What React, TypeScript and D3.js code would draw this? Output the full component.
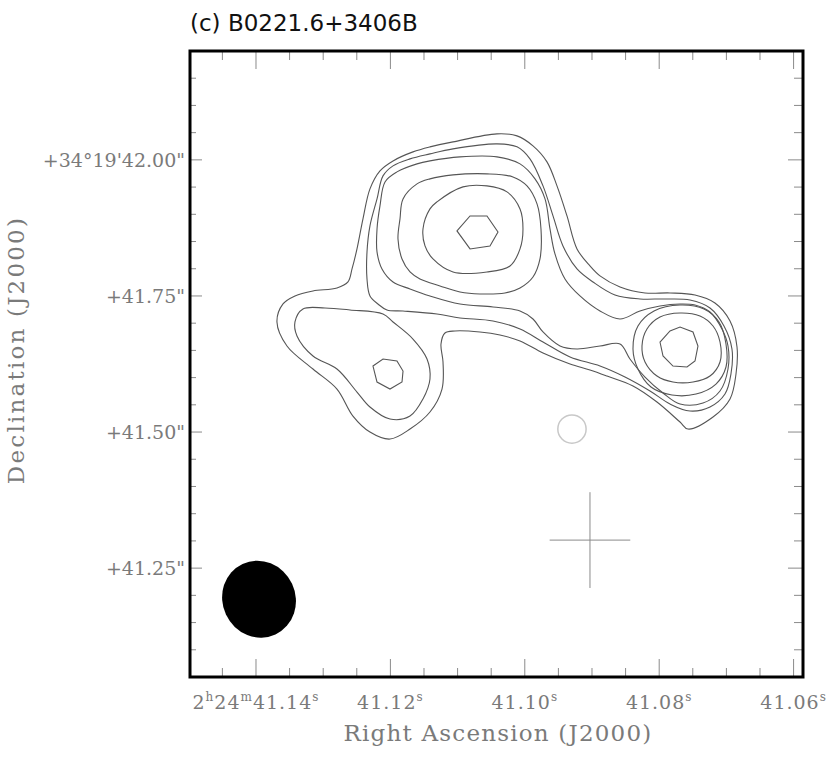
import React from 'react';
import * as d3 from 'd3';

// axis extents (RA in seconds of time, Dec in arcsec past 34°19')
const raDomain = [41.14982, 41.0586];
const decDomain = [41.05, 42.2];

const raMajor = [41.14, 41.12, 41.10, 41.08, 41.06];
const raLabels = ['41.14', '41.12', '41.10', '41.08', '41.06'];
const decMajor = [42.0, 41.75, 41.5, 41.25];
const decLabels = ['+34°19\'42.00"', '+41.75"', '+41.50"', '+41.25"'];

// contours, [ra, dec], outermost level first
const levelA_all = [
  [41.08881, 41.7868], [41.08583, 41.7665], [41.08211, 41.7555], [41.07839, 41.7555],
  [41.07467, 41.7518], [41.07170, 41.7371], [41.06946, 41.7040], [41.06842, 41.6562],
  [41.06857, 41.6066], [41.06946, 41.5607], [41.07199, 41.5276], [41.07571, 41.5055],
  [41.07690, 41.5184], [41.08033, 41.5551], [41.08390, 41.5846], [41.08777, 41.6029],
  [41.09030, 41.6140], [41.09327, 41.6250], [41.09729, 41.6452], [41.10071, 41.6673],
  [41.10369, 41.6783], [41.10667, 41.6838], [41.11039, 41.6857], [41.11188, 41.6820],
  [41.11247, 41.6618], [41.11217, 41.6287], [41.11232, 41.5790], [41.11411, 41.5368],
  [41.11708, 41.5055], [41.12006, 41.4871], [41.12304, 41.5000], [41.12557, 41.5294],
  [41.12795, 41.5790], [41.13152, 41.6158], [41.13539, 41.6581], [41.13688, 41.7022],
  [41.13598, 41.7353], [41.13420, 41.7500], [41.13152, 41.7592], [41.12795, 41.7647],
  [41.12631, 41.7757], [41.12571, 41.7996], [41.12497, 41.8364], [41.12408, 41.8915],
  [41.12304, 41.9467], [41.12155, 41.9798], [41.11961, 41.9981], [41.11664, 42.0147],
  [41.11411, 42.0239], [41.11068, 42.0331], [41.10414, 42.0478], [41.10116, 42.0441],
  [41.09878, 42.0257], [41.09670, 41.9963], [41.09521, 41.9522], [41.09372, 41.8970],
  [41.09223, 41.8364], [41.09030, 41.8051],
];

const levelB_main = [
  [41.12304, 41.7500], [41.12348, 41.7812], [41.12348, 41.8309], [41.12304, 41.8787],
  [41.12199, 41.9283], [41.12110, 41.9706], [41.11961, 41.9890], [41.11708, 42.0018],
  [41.11411, 42.0110], [41.11068, 42.0202], [41.10414, 42.0294], [41.10116, 42.0239],
  [41.09923, 42.0018], [41.09729, 41.9522], [41.09580, 41.8970], [41.09432, 41.8419],
  [41.09223, 41.7996], [41.08985, 41.7757], [41.08658, 41.7518], [41.08286, 41.7445],
  [41.07914, 41.7445], [41.07542, 41.7426], [41.07244, 41.7279], [41.07036, 41.6948],
  [41.06917, 41.6526], [41.06932, 41.6066], [41.07021, 41.5698], [41.07244, 41.5460],
  [41.07542, 41.5386], [41.07839, 41.5515], [41.08137, 41.5754], [41.08509, 41.6011],
  [41.08881, 41.6213], [41.09327, 41.6379], [41.09729, 41.6654], [41.10071, 41.6893],
  [41.10473, 41.7040], [41.10964, 41.7096], [41.11307, 41.7169], [41.11812, 41.7224],
  [41.12051, 41.7243], [41.12185, 41.7353],
];

const levelB_west = [
  [41.13301, 41.7261], [41.13420, 41.7022], [41.13390, 41.6765], [41.13152, 41.6397],
  [41.12795, 41.6158], [41.12497, 41.5735], [41.12304, 41.5460], [41.12006, 41.5239],
  [41.11708, 41.5294], [41.11515, 41.5607], [41.11411, 41.5974], [41.11455, 41.6342],
  [41.11664, 41.6709], [41.11961, 41.7022], [41.12110, 41.7169], [41.12601, 41.7243],
  [41.12973, 41.7279],
];

const levelC_main = [
  [41.12155, 41.9154], [41.12199, 41.8731], [41.12199, 41.8309], [41.12125, 41.7996],
  [41.11961, 41.7757], [41.11708, 41.7629], [41.11411, 41.7500], [41.10964, 41.7353],
  [41.10473, 41.7298], [41.10071, 41.7224], [41.09878, 41.7077], [41.09729, 41.6838],
  [41.09476, 41.6581], [41.09223, 41.6526], [41.08881, 41.6581], [41.08583, 41.6618],
  [41.08435, 41.6342], [41.08211, 41.6011], [41.07943, 41.5717], [41.07690, 41.5515],
  [41.07348, 41.5533], [41.07095, 41.5754], [41.06976, 41.6158], [41.06976, 41.6581],
  [41.07066, 41.6893], [41.07244, 41.7206], [41.07467, 41.7334], [41.07690, 41.7353],
  [41.07988, 41.7316], [41.08286, 41.7224], [41.08583, 41.7077], [41.08881, 41.7224],
  [41.09179, 41.7500], [41.09402, 41.7812], [41.09551, 41.8272], [41.09625, 41.8731],
  [41.09699, 41.9283], [41.09848, 41.9651], [41.10071, 41.9926], [41.10414, 42.0055],
  [41.10964, 42.0055], [41.11411, 41.9981], [41.11604, 41.9926], [41.11902, 41.9779],
  [41.12080, 41.9595],
];

const levelC_west = [
  [41.12259, 41.6213], [41.12110, 41.6342], [41.11902, 41.6305], [41.11812, 41.6121],
  [41.11827, 41.5919], [41.12006, 41.5790], [41.12199, 41.5919],
];

const levelD_centre = [
  [41.11857, 41.8915], [41.11812, 41.9283], [41.11604, 41.9559], [41.11411, 41.9651],
  [41.11068, 41.9724], [41.10563, 41.9743], [41.10176, 41.9687], [41.09967, 41.9522],
  [41.09818, 41.9191], [41.09759, 41.8731], [41.09774, 41.8180], [41.09878, 41.7849],
  [41.10071, 41.7647], [41.10295, 41.7555], [41.10667, 41.7537], [41.10964, 41.7573],
  [41.11262, 41.7684], [41.11560, 41.7812], [41.11708, 41.7941], [41.11827, 41.8180],
  [41.11887, 41.8548],
];

const levelD_east = [
  [41.08390, 41.6526], [41.08316, 41.6948], [41.08077, 41.7224], [41.07690, 41.7334],
  [41.07333, 41.7261], [41.07110, 41.7022], [41.07006, 41.6618], [41.07006, 41.6195],
  [41.07155, 41.5882], [41.07452, 41.5698], [41.07810, 41.5680], [41.08122, 41.5827],
  [41.08316, 41.6158],
];

const levelE_centre = [
  [41.11515, 41.8731], [41.11411, 41.9099], [41.11307, 41.9228], [41.10920, 41.9504],
  [41.10563, 41.9522], [41.10265, 41.9412], [41.10071, 41.9099], [41.10027, 41.8731],
  [41.10071, 41.8364], [41.10220, 41.8051], [41.10563, 41.7941], [41.11068, 41.7941],
  [41.11366, 41.8180], [41.11485, 41.8419],
];

const levelE_east = [
  [41.08256, 41.6581], [41.08182, 41.6893], [41.07988, 41.7114], [41.07690, 41.7187],
  [41.07393, 41.7132], [41.07199, 41.6948], [41.07095, 41.6654], [41.07095, 41.6287],
  [41.07244, 41.6029], [41.07497, 41.5919], [41.07795, 41.5919], [41.08033, 41.6029],
  [41.08211, 41.6287],
];

const levelF_centre = [
  [41.11009, 41.8695], [41.10815, 41.8970], [41.10563, 41.8970], [41.10399, 41.8676],
  [41.10518, 41.8419], [41.10815, 41.8364],
];

const levelF_east = [
  [41.07988, 41.6654], [41.07839, 41.6857], [41.07690, 41.6930], [41.07497, 41.6838],
  [41.07423, 41.6581], [41.07467, 41.6305], [41.07586, 41.6195], [41.07795, 41.6213],
  [41.07943, 41.6397],
];

const smoothRings = [levelA_all, levelB_main, levelB_west, levelC_main, levelD_centre, levelD_east, levelE_centre, levelE_east];
const peakRings = [levelC_west, levelF_centre, levelF_east];

// restoring beam: centre, FWHM major/minor (arcsec), position angle (deg)
const beam = { ra: 41.13955, dec: 41.193, major: 0.143, minor: 0.134, pa: -25 };
// marked position (cross) and faint circle
const cross = { ra: 41.0903, dec: 41.3015, halfRa: 0.006, halfDec: 0.088 };
const ghost = { ra: 41.09298, dec: 41.5055, r: 0.026 };

const serif = '"DejaVu Serif", "Liberation Serif", serif';
const sans = '"DejaVu Sans", "Liberation Sans", sans-serif';

export default function App() {
  const W = 830, H = 758;
  const left = 190, right = 803, top = 51, bottom = 677;
  const x = d3.scaleLinear().domain(raDomain).range([left, right]);
  const y = d3.scaleLinear().domain(decDomain).range([bottom, top]);
  const pxPerArcsec = Math.abs(y(1) - y(0));

  const smooth = d3.line<number[]>().x(d => x(d[0])).y(d => y(d[1])).curve(d3.curveCatmullRomClosed.alpha(0.5));
  const poly = d3.line<number[]>().x(d => x(d[0])).y(d => y(d[1])).curve(d3.curveLinearClosed);

  const near = (a: number, b: number) => Math.abs(a - b) < 1e-6;
  const raMinor = d3.range(0, 19).map(i => +(41.145 - i * 0.005).toFixed(3))
    .filter(v => v <= raDomain[0] && v >= raDomain[1] && !raMajor.some(m => near(m, v)));
  const decMinor = d3.range(0, 24).map(i => +(41.05 + i * 0.05).toFixed(2))
    .filter(v => v > decDomain[0] && v < decDomain[1] && !decMajor.some(m => near(m, v)));

  const tickColor = '#8a8a8a';
  const labelColor = '#7a7a7a';

  return (
    <svg width={W} height={H} style={{ position: 'absolute', left: 0, top: 0, background: '#fff' }}>
      <rect x={0} y={0} width={W} height={H} fill="#fff" />

      {/* title */}
      <text x={190} y={31} fontFamily={sans} fontSize={23} fill="#111">(c) B0221.6+3406B</text>

      {/* ticks */}
      <g stroke={tickColor} strokeWidth={1}>
        {raMajor.map(v => (
          <g key={'rM' + v}>
            <line x1={x(v)} x2={x(v)} y1={bottom} y2={bottom - 18} />
            <line x1={x(v)} x2={x(v)} y1={top} y2={top + 18} />
          </g>
        ))}
        {raMinor.map(v => (
          <g key={'rm' + v}>
            <line x1={x(v)} x2={x(v)} y1={bottom} y2={bottom - 9} />
            <line x1={x(v)} x2={x(v)} y1={top} y2={top + 9} />
          </g>
        ))}
        {decMajor.map(v => (
          <g key={'dM' + v}>
            <line x1={left} x2={left + 12} y1={y(v)} y2={y(v)} />
            <line x1={right} x2={right - 15} y1={y(v)} y2={y(v)} />
          </g>
        ))}
        {decMinor.map(v => (
          <g key={'dm' + v}>
            <line x1={left} x2={left + 6} y1={y(v)} y2={y(v)} />
            <line x1={right} x2={right - 9} y1={y(v)} y2={y(v)} />
          </g>
        ))}
      </g>

      {/* frame */}
      <rect x={left} y={top} width={right - left} height={bottom - top} fill="none" stroke="#000" strokeWidth={3} />

      {/* tick labels */}
      <g fontFamily={serif} fontSize={19} fill={labelColor}>
        {raMajor.map((v, i) => (
          <text key={'rl' + v} x={x(v)} y={709} textAnchor="middle" letterSpacing={1}>
            {i === 0 && (<>
              <tspan>2</tspan><tspan fontSize={12} dy={-8}>h</tspan>
              <tspan dy={8}>24</tspan><tspan fontSize={12} dy={-8}>m</tspan>
              <tspan dy={8}>{raLabels[i]}</tspan>
            </>)}
            {i > 0 && <tspan>{raLabels[i]}</tspan>}
            <tspan fontSize={12} dy={-8}>s</tspan>
          </text>
        ))}
        {decMajor.map((v, i) => (
          <text key={'dl' + v} x={185} y={y(v) + 7} textAnchor="end">{decLabels[i]}</text>
        ))}
      </g>

      {/* axis titles */}
      <text x={498} y={741} textAnchor="middle" fontFamily={serif} fontSize={23} letterSpacing={1.2} fill={labelColor}>Right Ascension (J2000)</text>
      <text transform={`translate(24,350) rotate(-90)`} textAnchor="middle" fontFamily={serif} fontSize={23} letterSpacing={2.2} fill={labelColor}>Declination (J2000)</text>

      {/* contours */}
      <g fill="none" stroke="#555" strokeWidth={1.1}>
        {smoothRings.map((r, i) => <path key={'s' + i} d={smooth(r) || ''} />)}
        {peakRings.map((r, i) => <path key={'p' + i} d={poly(r) || ''} />)}
      </g>

      {/* faint circle */}
      <circle cx={x(ghost.ra)} cy={y(ghost.dec)} r={ghost.r * pxPerArcsec} fill="none" stroke="#c8c8c8" strokeWidth={1.5} />

      {/* cross */}
      <g stroke="#8a8a8a" strokeWidth={1}>
        <line x1={x(cross.ra + cross.halfRa)} x2={x(cross.ra - cross.halfRa)} y1={y(cross.dec)} y2={y(cross.dec)} />
        <line x1={x(cross.ra)} x2={x(cross.ra)} y1={y(cross.dec + cross.halfDec)} y2={y(cross.dec - cross.halfDec)} />
      </g>

      {/* beam */}
      <ellipse
        cx={x(beam.ra)} cy={y(beam.dec)}
        rx={(beam.minor / 2) * pxPerArcsec} ry={(beam.major / 2) * pxPerArcsec}
        transform={`rotate(${beam.pa} ${x(beam.ra)} ${y(beam.dec)})`}
        fill="#000"
      />
    </svg>
  );
}
